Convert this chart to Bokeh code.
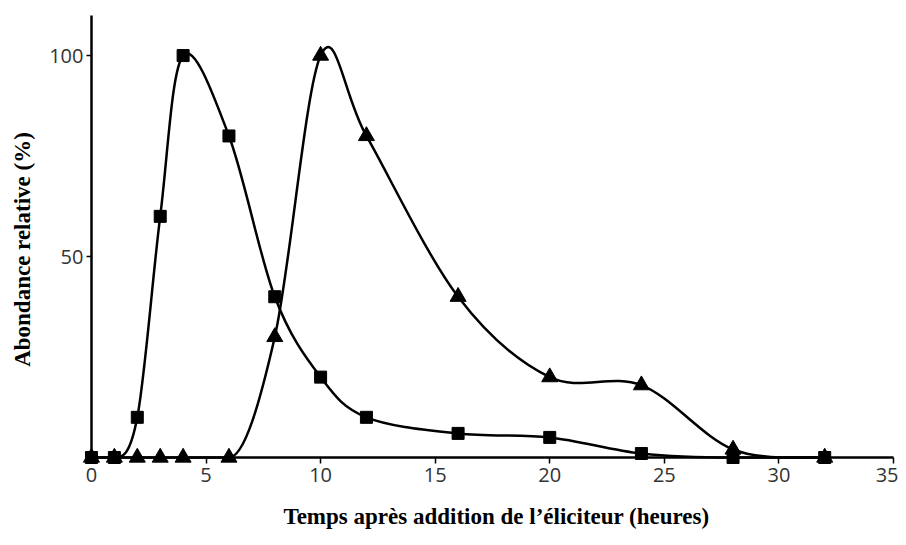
from bokeh.plotting import figure
from bokeh.embed import file_html
from bokeh.resources import INLINE
from bokeh.models import Range1d, FixedTicker, Label
import numpy as np

hours = [0, 1, 2, 3, 4, 6, 8, 10, 12, 16, 20, 24, 28, 32]
squares = [0, 0, 10, 60, 100, 80, 40, 20, 10, 6, 5, 1, 0, 0]
triangles = [0, 0, 0, 0, 0, 0, 30, 100, 80, 40, 20, 18, 2, 0]
x_ticks = [0, 5, 10, 15, 20, 25, 30, 35]
y_ticks = [50, 100]
x_label = "Temps après addition de l’éliciteur (heures)"
y_label = "Abondance relative (%)"

p = figure(width=898, height=537, output_backend="svg", toolbar_location=None,
           x_range=Range1d(-3.97, 35.22), y_range=Range1d(-19.9, 113.7),
           min_border=0)
p.outline_line_color = None
p.grid.visible = False
p.background_fill_color = "white"


def bez(xs, ys):
    x = np.asarray(xs, float)
    y = np.asarray(ys, float)
    n = len(x)
    tx = np.zeros(n); ty = np.zeros(n)
    for i in range(n):
        a = max(i - 1, 0); b = min(i + 1, n - 1)
        tx[i] = (x[b] - x[a]) / 6; ty[i] = (y[b] - y[a]) / 6
        if (i > 0 and y[i] == y[i - 1]) or (i < n - 1 and y[i] == y[i + 1]):
            ty[i] = 0
    return dict(x0=x[:-1], y0=y[:-1], x1=x[1:], y1=y[1:],
                cx0=x[:-1] + tx[:-1], cy0=y[:-1] + ty[:-1],
                cx1=x[1:] - tx[1:], cy1=y[1:] - ty[1:])

for ys in (squares, triangles):
    d = bez(hours, ys)
    p.bezier(line_color="black", line_width=2.5, **d)

p.scatter(hours, triangles, marker="triangle", size=16, color="black")
p.scatter(hours, squares, marker="square", size=12, color="black")

for ax in (p.xaxis[0], p.yaxis[0]):
    ax.fixed_location = 0
    ax.axis_line_color = "black"
    ax.axis_line_width = 2.5
    ax.major_tick_line_color = "black"
    ax.major_tick_line_width = 1.5
    ax.major_tick_in = 0
    ax.minor_tick_line_color = None
    ax.major_label_text_font = "Open Sans"
    ax.major_label_text_font_size = "20px"
    ax.major_label_text_color = "#333333"

p.xaxis.major_tick_out = 6
p.xaxis.major_label_standoff = 4
p.yaxis.major_tick_out = 5
p.yaxis.major_label_standoff = 3
p.xaxis.bounds = (x_ticks[0], x_ticks[-1])
p.yaxis.bounds = (0, 110)
p.xaxis.ticker = FixedTicker(ticks=x_ticks)
p.yaxis.ticker = FixedTicker(ticks=y_ticks)

p.add_layout(Label(x=496, y=21, x_units="screen", y_units="screen",
                   text=x_label,
                   text_font="Liberation Serif", text_font_style="bold",
                   text_font_size="23px", text_color="black",
                   text_align="center", text_baseline="middle"))
p.add_layout(Label(x=22, y=288, x_units="screen", y_units="screen",
                   text=y_label, angle=np.pi / 2,
                   text_font="Liberation Serif", text_font_style="bold",
                   text_font_size="23px", text_color="black",
                   text_align="center", text_baseline="middle"))

open("out.html", "w").write(file_html(p, INLINE))
